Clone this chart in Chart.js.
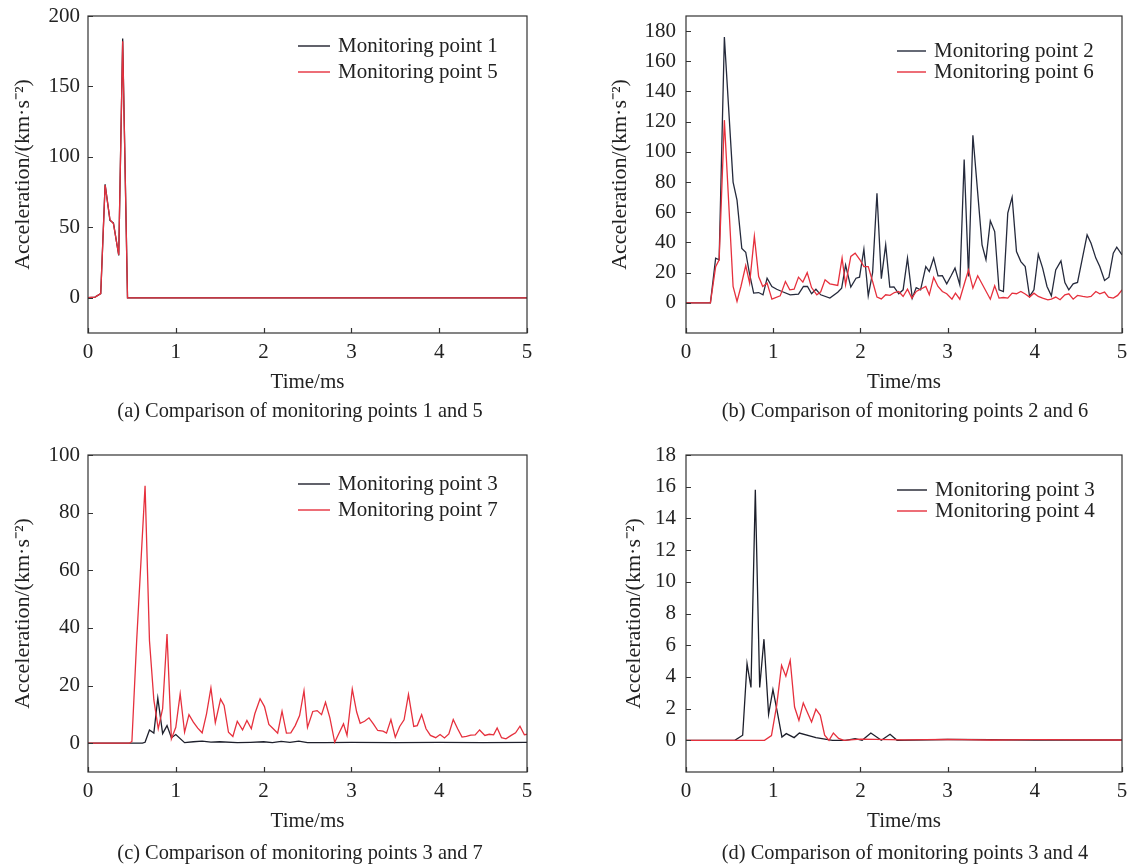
<!DOCTYPE html>
<html>
<head>
<meta charset="utf-8">
<script src="https://cdn.jsdelivr.net/npm/chart.js@4.4.1/dist/chart.umd.min.js"></script>
<style>
  html, body { margin: 0; padding: 0; background: #fff; }
  body { width: 1127px; height: 865px; position: relative; overflow: hidden; font-family: "Liberation Serif", "Times New Roman", serif; color: #222; }
  .panel { position: absolute; }
  .caption { position: absolute; text-align: center; font-size: 20.4px; line-height: 24px; white-space: nowrap; }
</style>
</head>
<body>
<div class="panel" style="left:0;top:0;width:560px;height:430px"><canvas id="chartA"></canvas></div>
<div class="panel" style="left:598px;top:0;width:529px;height:430px"><canvas id="chartB"></canvas></div>
<div class="panel" style="left:0;top:440px;width:560px;height:425px"><canvas id="chartC"></canvas></div>
<div class="panel" style="left:598px;top:440px;width:529px;height:425px"><canvas id="chartD"></canvas></div>
<div class="caption" style="left:60px;width:480px;top:398px">(a) Comparison of monitoring points 1 and 5</div>
<div class="caption" style="left:665px;width:480px;top:398px">(b) Comparison of monitoring points 2 and 6</div>
<div class="caption" style="left:60px;width:480px;top:840px">(c) Comparison of monitoring points 3 and 7</div>
<div class="caption" style="left:665px;width:480px;top:840px">(d) Comparison of monitoring points 3 and 4</div>
<script>
// time ticks shared by all panels (ms)
const timeTicks = [0, 1, 2, 3, 4, 5];
const yTicksA = [0, 50, 100, 150, 200];
const yTicksB = [0, 20, 40, 60, 80, 100, 120, 140, 160, 180];
const yTicksC = [0, 20, 40, 60, 80, 100];
const yTicksD = [0, 2, 4, 6, 8, 10, 12, 14, 16, 18];

// [time ms, acceleration km/s^2]
const point1 = [[0, 0], [0.08, 0.5], [0.145, 3], [0.195, 80.6], [0.25, 55], [0.29, 53], [0.35, 30], [0.395, 184], [0.45, 0], [5, 0]];
const point5 = [[0, 0], [0.08, 0.5], [0.145, 3], [0.195, 80], [0.25, 55.5], [0.29, 52.5], [0.35, 30.5], [0.395, 182], [0.45, 0], [5, 0]];

const point2 = [[0, 0], [0.28, 0], [0.34, 29.6], [0.38, 28.5], [0.44, 176], [0.54, 80], [0.585, 68], [0.64, 36], [0.685, 33.5],
  [0.727, 19.7], [0.776, 6.4], [0.833, 6.8], [0.883, 5.3], [0.93, 16.3], [0.985, 10.8], [1.04, 9], [1.10, 7.5], [1.195, 5.3],
  [1.29, 5.7], [1.347, 10.8], [1.393, 10.8], [1.44, 6], [1.49, 9], [1.545, 5.3], [1.65, 3.1], [1.74, 7], [1.785, 9.7], [1.83, 25],
  [1.89, 10.4], [1.95, 16.3], [1.99, 17], [2.04, 35.5], [2.09, 4.6], [2.14, 20], [2.19, 72.6], [2.24, 16], [2.29, 38.4],
  [2.337, 10.4], [2.385, 10.6], [2.44, 6], [2.49, 8.6], [2.54, 29.6], [2.595, 3.1], [2.64, 10.1], [2.69, 8.6], [2.75, 24],
  [2.79, 20.7], [2.84, 29.6], [2.89, 17.9], [2.94, 18], [2.99, 12.6], [3.04, 17.9], [3.085, 23], [3.14, 11.9], [3.19, 95],
  [3.24, 17.4], [3.29, 111], [3.395, 38.4], [3.44, 28.5], [3.49, 54.3], [3.54, 47.2], [3.59, 8.6], [3.64, 7.5], [3.69, 59.4],
  [3.74, 70], [3.79, 34], [3.84, 27.3], [3.89, 24], [3.94, 4.2], [3.99, 8.6], [4.04, 32.2], [4.09, 23], [4.14, 10.8], [4.19, 4.6],
  [4.24, 21.8], [4.30, 27.8], [4.345, 13.4], [4.39, 8.6], [4.44, 12.6], [4.49, 13.5], [4.55, 30.7], [4.60, 45], [4.645, 39.5],
  [4.70, 29.6], [4.745, 24], [4.80, 14.8], [4.85, 17], [4.90, 32.9], [4.94, 36.9], [5.0, 31.8]];
const point6 = [[0, 0], [0.28, 0], [0.34, 24], [0.38, 28.5], [0.44, 121], [0.54, 10.8], [0.585, 0.9], [0.63, 10.8], [0.685, 24.7],
  [0.73, 13], [0.784, 44], [0.833, 17.4], [0.88, 10.8], [0.93, 13], [0.985, 2.4], [1.08, 4.6], [1.14, 14.1], [1.19, 8.6],
  [1.24, 9], [1.29, 17], [1.34, 13.7], [1.39, 20], [1.44, 10.1], [1.50, 5.3], [1.545, 7.3], [1.595, 15.2], [1.65, 12.6],
  [1.74, 11.5], [1.79, 29.6], [1.83, 11.9], [1.89, 30.7], [1.94, 32.9], [1.995, 28.5], [2.04, 24], [2.09, 24], [2.14, 14.1],
  [2.19, 3.8], [2.24, 2.6], [2.29, 5.3], [2.34, 4.9], [2.39, 6.8], [2.44, 7.5], [2.49, 4.2], [2.54, 9], [2.59, 3.1], [2.64, 7.5],
  [2.69, 9], [2.75, 10.8], [2.79, 5.3], [2.84, 16.8], [2.89, 10.8], [2.94, 7.5], [2.99, 6], [3.05, 2.4], [3.09, 6.4], [3.14, 2.4],
  [3.20, 14.1], [3.24, 21.8], [3.29, 9.7], [3.345, 17.9], [3.49, 2.4], [3.54, 11.3], [3.59, 3.1], [3.64, 3.5], [3.69, 3.1],
  [3.74, 6.4], [3.79, 6], [3.84, 7.5], [3.89, 5.8], [3.94, 3.8], [3.99, 6.4], [4.04, 4.2], [4.09, 3.1], [4.15, 2], [4.19, 2.4],
  [4.24, 3.8], [4.29, 2], [4.345, 5.3], [4.39, 6], [4.44, 2.4], [4.49, 4.9], [4.55, 4.2], [4.60, 3.8], [4.645, 4.2], [4.70, 7.5],
  [4.745, 6], [4.80, 7.1], [4.845, 3.8], [4.90, 3.1], [4.95, 4.9], [5.0, 8.6]];

const point3c = [[0, 0], [0.62, 0], [0.65, 0.3], [0.70, 4.6], [0.75, 3.5], [0.795, 15.7], [0.85, 3.3], [0.90, 6.1], [0.95, 1.9],
  [1.00, 3], [1.10, 0.2], [1.2, 0.5], [1.3, 0.7], [1.4, 0.4], [1.5, 0.5], [1.7, 0.2], [1.85, 0.3], [2.0, 0.5], [2.1, 0.2],
  [2.2, 0.6], [2.3, 0.3], [2.4, 0.7], [2.5, 0.2], [2.7, 0.2], [3.0, 0.3], [3.5, 0.2], [4.0, 0.3], [4.5, 0.2], [5.0, 0.3]];
const point7 = [[0, 0], [0.47, 0], [0.50, 0.6], [0.555, 36], [0.65, 89.3], [0.70, 35.6], [0.75, 15], [0.80, 5], [0.85, 12],
  [0.90, 37.9], [0.95, 1.5], [1.00, 5.5], [1.05, 17.1], [1.10, 3.8], [1.15, 9.9], [1.20, 7.3], [1.25, 5.2], [1.30, 3.6],
  [1.35, 10.2], [1.40, 19.2], [1.45, 7.1], [1.51, 15.3], [1.55, 13.1], [1.60, 3.8], [1.65, 2.3], [1.70, 7.6], [1.76, 4.6],
  [1.81, 7.9], [1.86, 5], [1.90, 10.2], [1.96, 15.4], [2.01, 12.7], [2.06, 6.5], [2.11, 5], [2.16, 3.5], [2.21, 11.1],
  [2.26, 3.5], [2.31, 3.6], [2.36, 6.1], [2.41, 9.6], [2.46, 18.2], [2.50, 5.5], [2.56, 11], [2.61, 11.3], [2.66, 9.9],
  [2.705, 14.2], [2.755, 8.8], [2.81, 0.3], [2.86, 3.5], [2.91, 6.7], [2.95, 2.7], [3.01, 18.8], [3.06, 10.8], [3.10, 6.9],
  [3.15, 7.6], [3.20, 8.8], [3.25, 6.7], [3.30, 4.4], [3.36, 4.2], [3.40, 3.5], [3.45, 8.2], [3.50, 2.1], [3.55, 5.8],
  [3.60, 8.1], [3.65, 16.9], [3.71, 5.8], [3.75, 6.1], [3.80, 9.9], [3.85, 5], [3.90, 2.7], [3.96, 1.9], [4.01, 3], [4.06, 1.8],
  [4.11, 3.2], [4.16, 8.2], [4.21, 5], [4.26, 2.1], [4.31, 2.4], [4.36, 2.8], [4.41, 2.9], [4.46, 4.6], [4.52, 2.7], [4.57, 3.1],
  [4.62, 2.9], [4.66, 5.3], [4.71, 1.9], [4.76, 1.5], [4.82, 2.7], [4.87, 3.6], [4.92, 5.9], [4.97, 2.9], [5.0, 3.1]];

const point3d = [[0, 0], [0.56, 0], [0.65, 0.32], [0.70, 4.84], [0.745, 3.33], [0.795, 15.8], [0.845, 3.33], [0.894, 6.38],
  [0.947, 1.64], [0.997, 3.2], [1.05, 1.7], [1.10, 0.2], [1.15, 0.42], [1.24, 0.17], [1.30, 0.46], [1.49, 0.17], [1.68, 0],
  [1.83, 0], [1.94, 0.1], [2.02, 0], [2.12, 0.46], [2.24, 0], [2.34, 0.38], [2.42, 0], [3.0, 0.05], [4.0, 0.02], [5.0, 0.02]];
const point4 = [[0, 0], [0.90, 0], [0.98, 0.3], [1.04, 2.2], [1.096, 4.73], [1.145, 4.04], [1.195, 5.05], [1.245, 2.1],
  [1.295, 1.26], [1.345, 2.36], [1.39, 1.79], [1.44, 1.16], [1.49, 1.96], [1.54, 1.58], [1.59, 0.32], [1.64, 0], [1.69, 0.46],
  [1.75, 0.12], [1.81, 0], [2.0, 0.08], [2.5, 0.03], [3.0, 0.06], [3.5, 0.02], [4.0, 0.04], [5.0, 0.02]];

const BLACK = '#1d1f2b';
const RED = '#e6303d';
const FONT = '"Liberation Serif", "Times New Roman", serif';

Chart.defaults.font.family = FONT;
Chart.defaults.color = '#222';

function toPoints(pairs) {
  return pairs.map(([x, y]) => ({ x, y }));
}

// frame, inward ticks and the legend inside the plot
const framePlugin = {
  id: 'frame',
  afterDraw(chart, args, opts) {
    const { ctx, chartArea: a, scales } = chart;
    ctx.save();
    ctx.strokeStyle = '#333';
    ctx.lineWidth = 1.2;
    ctx.beginPath();
    scales.x.ticks.forEach((t) => {
      const px = Math.round(scales.x.getPixelForValue(t.value)) + 0.5;
      ctx.moveTo(px, a.bottom);
      ctx.lineTo(px, a.bottom - 5);
    });
    scales.y.ticks.forEach((t) => {
      const py = Math.round(scales.y.getPixelForValue(t.value)) + 0.5;
      ctx.moveTo(a.left, py);
      ctx.lineTo(a.left + 5, py);
    });
    ctx.stroke();
    ctx.strokeRect(a.left, a.top, a.right - a.left, a.bottom - a.top);

    ctx.font = `21px ${FONT}`;
    ctx.textBaseline = 'middle';
    ctx.fillStyle = '#222';
    chart.data.datasets.forEach((ds, i) => {
      const y = a.top + opts.top + i * opts.gap;
      ctx.strokeStyle = ds.borderColor;
      ctx.lineWidth = 1.4;
      ctx.beginPath();
      ctx.moveTo(a.left + opts.left, y);
      ctx.lineTo(a.left + opts.left + opts.lineLen, y);
      ctx.stroke();
      ctx.fillText(ds.label, a.left + opts.left + opts.lineLen + 8, y);
    });
    ctx.restore();
  },
};

function makeChart(id, cfg) {
  return new Chart(document.getElementById(id), {
    type: 'line',
    data: {
      datasets: [
        { label: cfg.labels[0], data: toPoints(cfg.black), borderColor: cfg.blackColor || BLACK, borderWidth: 1.3, pointRadius: 0, tension: 0, order: 2 },
        { label: cfg.labels[1], data: toPoints(cfg.red), borderColor: RED, borderWidth: 1.3, pointRadius: 0, tension: 0, order: 1 },
      ],
    },
    plugins: [framePlugin],
    options: {
      responsive: true,
      maintainAspectRatio: false,
      animation: false,
      events: [],
      layout: { padding: cfg.padding, autoPadding: false },
      plugins: {
        legend: { display: false },
        tooltip: { enabled: false },
        frame: cfg.legend,
      },
      scales: {
        x: {
          type: 'linear',
          min: 0,
          max: 5,
          afterBuildTicks: (scale) => { scale.ticks = timeTicks.map((v) => ({ value: v })); },
          afterFit: (scale) => {
            scale.height = 62;
            scale.paddingLeft = 0;
            scale.paddingRight = 0;
          },
          grid: { display: false, drawTicks: false },
          border: { display: false },
          ticks: { font: { size: 21 }, padding: 7, maxRotation: 0 },
          title: { display: true, text: 'Time/ms', font: { size: 21 }, padding: { top: 0, bottom: 0 } },
        },
        y: {
          min: cfg.yMin,
          max: cfg.yMax,
          afterBuildTicks: (scale) => { scale.ticks = cfg.yTicks.map((v) => ({ value: v })); },
          afterFit: (scale) => {
            scale.width = 88;
            scale.paddingTop = 0;
            scale.paddingBottom = 0;
          },
          grid: { display: false, drawTicks: false },
          border: { display: false },
          ticks: { font: { size: 21 }, padding: cfg.tickPad },
          title: { display: true, text: 'Acceleration/(km·s⁻²)', font: { size: 22 }, padding: { top: cfg.titlePad, bottom: 0 } },
        },
      },
    },
  });
}

makeChart('chartA', {
  labels: ['Monitoring point 1', 'Monitoring point 5'],
  black: point1, red: point5,
  yMin: -25, yMax: 200, yTicks: yTicksA,
  padding: { left: 0, top: 16, right: 33, bottom: 35 },
  tickPad: 8, titlePad: 10,
  legend: { left: 210, top: 30, gap: 26, lineLen: 32 },
});

makeChart('chartB', {
  labels: ['Monitoring point 2', 'Monitoring point 6'],
  black: point2, red: point6, blackColor: '#252a3c',
  yMin: -20, yMax: 190, yTicks: yTicksB,
  padding: { left: 0, top: 16, right: 5, bottom: 35 },
  tickPad: 10, titlePad: 9,
  legend: { left: 211, top: 35, gap: 21, lineLen: 29 },
});

makeChart('chartC', {
  labels: ['Monitoring point 3', 'Monitoring point 7'],
  black: point3c, red: point7,
  yMin: -10, yMax: 100, yTicks: yTicksC,
  padding: { left: 0, top: 15, right: 33, bottom: 31 },
  tickPad: 8, titlePad: 10,
  legend: { left: 210, top: 29, gap: 26, lineLen: 32 },
});

makeChart('chartD', {
  labels: ['Monitoring point 3', 'Monitoring point 4'],
  black: point3d, red: point4,
  yMin: -2, yMax: 18, yTicks: yTicksD,
  padding: { left: 0, top: 15, right: 5, bottom: 31 },
  tickPad: 10, titlePad: 23,
  legend: { left: 211, top: 35, gap: 21, lineLen: 30 },
});
</script>
</body>
</html>
